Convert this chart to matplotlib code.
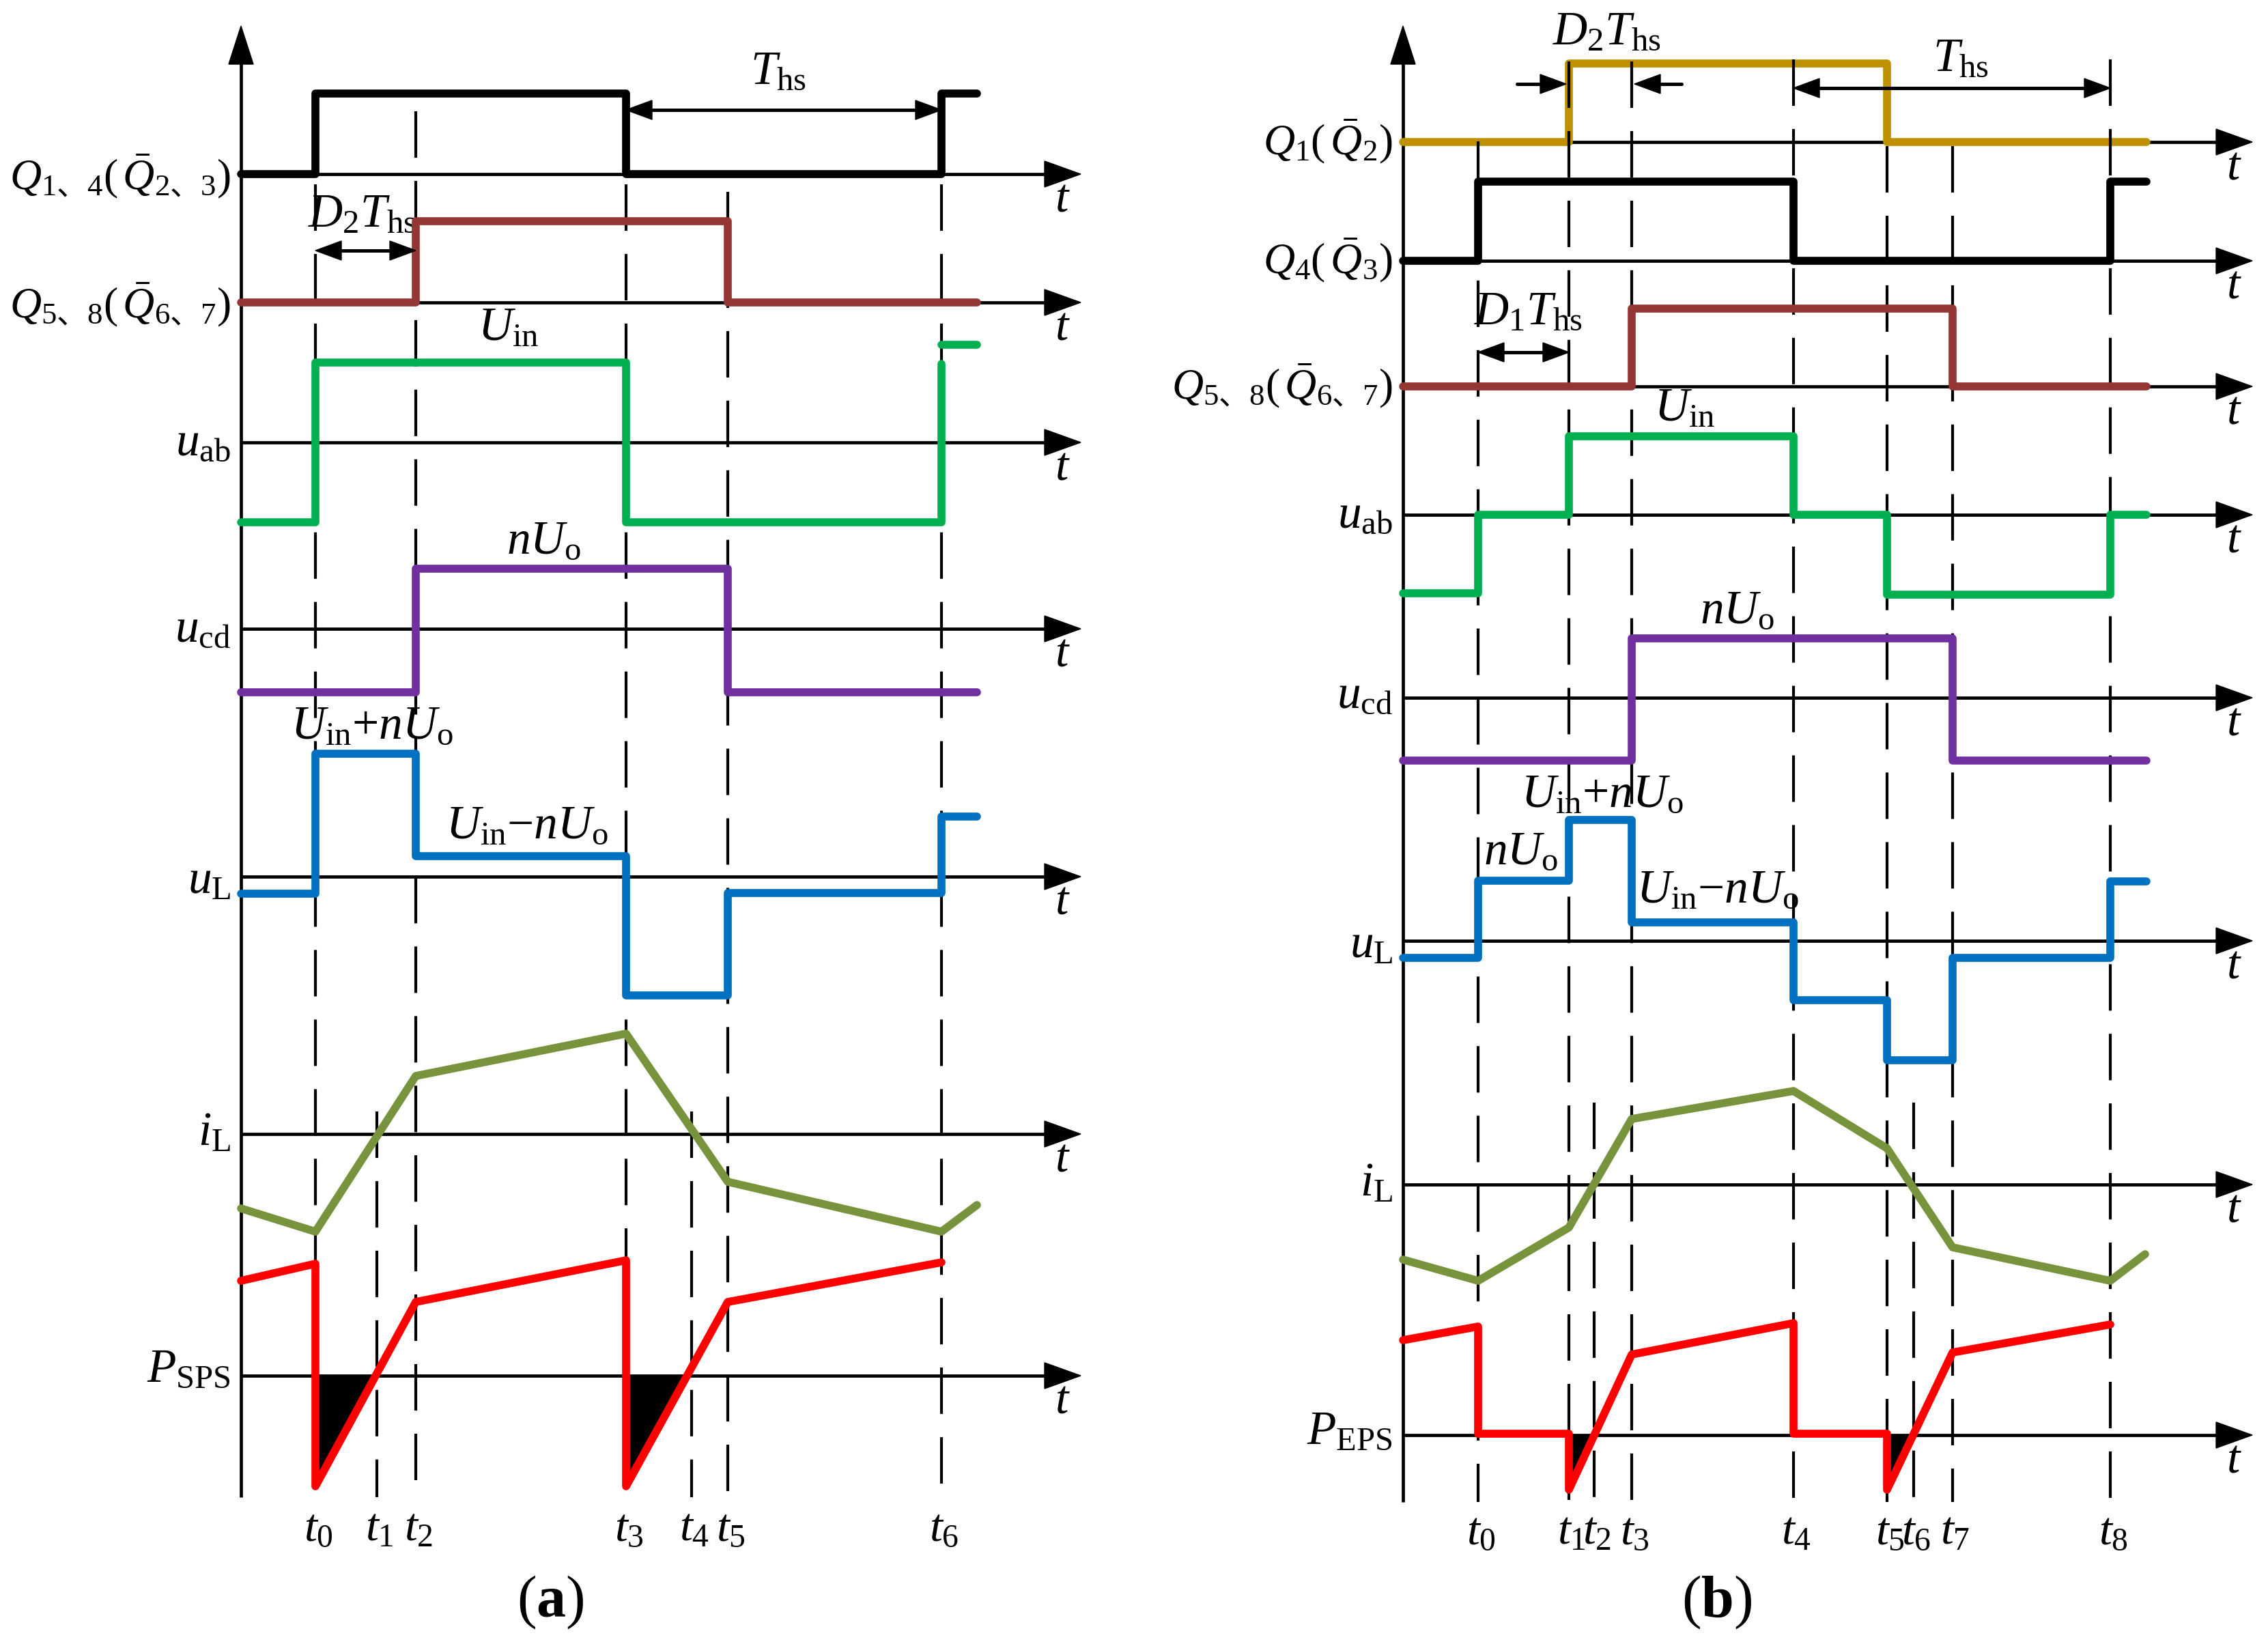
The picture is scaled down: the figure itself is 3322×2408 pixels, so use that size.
import numpy as np
import matplotlib
matplotlib.use('Agg')
import matplotlib.pyplot as plt
from matplotlib.patches import Polygon

plt.rcParams.update({
    'font.family': ['Liberation Serif', 'Noto Sans CJK SC', 'DejaVu Sans'],
    'mathtext.fontset': 'custom',
    'mathtext.rm': 'Liberation Serif',
    'mathtext.it': 'Liberation Serif:italic',
    'mathtext.bf': 'Liberation Serif:bold',
    'mathtext.sf': 'Noto Sans CJK SC',
    'lines.scale_dashes': False,
})

# ======================= DATA =======================
# ---- panel (a): SPS ----
A_TIMES = [462, 552, 609, 917, 1013, 1066, 1379]            # t0 .. t6
A_TLABELS = ['$t_0$', '$t_1$', '$t_2$', '$t_3$', '$t_4$', '$t_5$', '$t_6$']
A_START, A_END = 353, 1431
A_Q14_EDGES, A_Q14_LEVELS = [462, 917, 1379], [0, 118, 0, 118]
A_Q58_EDGES, A_Q58_LEVELS = [609, 1066], [0, 119, 0]
A_UAB_EDGES, A_UAB_LEVELS = [462, 917, 1379], [-117, 117, -117, 115]
A_UAB_TAIL = 143
A_UCD_EDGES, A_UCD_LEVELS = [609, 1066], [-93, 88, -93]
A_UL_EDGES, A_UL_LEVELS = [462, 609, 917, 1066, 1379], [-25, 180, 30, -174, -24, 88]
A_IL_T = [353, 462, 609, 917, 1066, 1379, 1431]
A_IL_V = [-109, -143, 85, 147, -70, -143, -104]
A_P_T = [353, 462, 462, 609, 917, 917, 1066, 1379]
A_P_V = [139, 164, -162, 108, 169, -162, 108, 166]

# ---- panel (b): EPS ----
B_TIMES = [2165, 2298, 2335, 2390, 2627, 2764, 2803, 2860, 3091]   # t0 .. t8
B_TLABELS = ['$t_0$', '$t_1$', '$t_2$', '$t_3$', '$t_4$', '$t_5$', '$t_6$', '$t_7$', '$t_8$']
B_START, B_END = 2055, 3144
B_Q1_EDGES, B_Q1_LEVELS = [2298, 2764], [0, 115, 0]
B_Q4_EDGES, B_Q4_LEVELS = [2165, 2627, 3091], [0, 116, 0, 116]
B_Q58_EDGES, B_Q58_LEVELS = [2390, 2860], [0, 114, 0]
B_UAB_EDGES, B_UAB_LEVELS = [2165, 2298, 2627, 2764, 3091], [-115, 0, 115, 0, -117, 0]
B_UCD_EDGES, B_UCD_LEVELS = [2390, 2860], [-92, 87, -92]
B_UL_EDGES = [2165, 2298, 2390, 2627, 2764, 2860, 3091]
B_UL_LEVELS = [-25, 88, 177, 27, -87, -175, -25, 87]
B_IL_T = [2055, 2165, 2298, 2390, 2627, 2764, 2860, 3091, 3142]
B_IL_V = [-110, -141, -63, 96, 137, 53, -92, -141, -102]
B_P_T = [2055, 2165, 2165, 2298, 2298, 2390, 2627, 2627, 2764, 2764, 2860, 3091]
B_P_V = [139, 159, 2, 2, -80, 118, 164, 2, 2, -80, 121, 162]

# colours
C_BLACK = '#000000'
C_BROWN = '#943634'
C_GREEN = '#00B050'
C_PURPLE = '#7030A0'
C_BLUE = '#0070C0'
C_OLIVE = '#77933C'
C_RED = '#FF0000'
C_GOLD = '#BF9000'

# ======================= FIGURE =======================
W, H = 3322, 2408
fig = plt.figure(figsize=(W / 200, H / 200), dpi=200)
ax = fig.add_axes([0, 0, 1, 1])
ax.set_xlim(0, W)
ax.set_ylim(H, 0)
ax.axis('off')

SIG_LW = 4.2
AX_LW = 1.7
DASH_LW = 1.5
FS = 25
FS_Q = 23


def step_points(start, edges, levels, end):
    xs, vs = [start], [levels[0]]
    for e, lp, ln in zip(edges, levels[:-1], levels[1:]):
        xs += [e, e]
        vs += [lp, ln]
    xs.append(end)
    vs.append(levels[-1])
    return np.array(xs, float), np.array(vs, float)


def draw_wave(xs, vs, base, color, z=4):
    ax.plot(xs, base - np.asarray(vs, float), color=color, lw=SIG_LW,
            solid_capstyle='round', solid_joinstyle='round', zorder=z)


def tri(pts, z=5):
    ax.add_patch(Polygon(pts, closed=True, facecolor='k', edgecolor='k', lw=0.5, zorder=z))


def time_axis(x0, tip, y):
    ax.plot([x0, tip - 45], [y, y], color='k', lw=AX_LW, zorder=3, solid_capstyle='butt')
    tri([(tip, y), (tip - 53, y - 19), (tip - 53, y + 19)])
    ax.text(tip - 27, y + 38, '$t$', fontsize=FS, ha='center', va='center')


def y_axis(x, bottom):
    ax.plot([x, x], [80, bottom], color='k', lw=AX_LW, zorder=3, solid_capstyle='butt')
    tri([(x, 38), (x - 18, 94), (x + 18, 94)])


def dim_arrow(x0, x1, y, left=True, right=True, hl=38, hw=14):
    a = x0 + (hl * 0.8 if left else 0)
    b = x1 - (hl * 0.8 if right else 0)
    ax.plot([a, b], [y, y], color='k', lw=1.8, zorder=5, solid_capstyle='round')
    if left:
        tri([(x0, y), (x0 + hl, y - hw), (x0 + hl, y + hw)])
    if right:
        tri([(x1, y), (x1 - hl, y - hw), (x1 - hl, y + hw)])


def vdash(x, top, bottom):
    ax.plot([x, x], [top, bottom], color='k', lw=DASH_LW, linestyle=(0, (24.5, 12.2)),
            zorder=3.5, dash_capstyle='butt')


def row_label(x_axis, y, s, fs=FS):
    ax.text(x_axis - 15, y, s, fontsize=fs, ha='right', va='center')


def neg_fill(ts, vs, base):
    ts = np.asarray(ts, float)
    vs = np.asarray(vs, float)
    ax.fill_between(ts, base - vs, base, where=vs < 0, interpolate=True,
                    color='k', lw=0, zorder=4.5)


# ======================= PANEL (a) =======================
AX_A, BOT_A, TIP_A = 353, 2193, 1583
A_ROWS = dict(Q=255, Q58=443, uab=648, ucd=921, uL=1284, iL=1661, P=2015)
y_axis(AX_A, BOT_A)
for key in A_ROWS:
    time_axis(AX_A, TIP_A, A_ROWS[key])

a_tops = [270, 1628, 163, 270, 1628, 281, 270]
for t, top in zip(A_TIMES, a_tops):
    vdash(t, top, BOT_A)

draw_wave(*step_points(A_START, A_Q14_EDGES, A_Q14_LEVELS, A_END), A_ROWS['Q'], C_BLACK)
draw_wave(*step_points(A_START, A_Q58_EDGES, A_Q58_LEVELS, A_END), A_ROWS['Q58'], C_BROWN)
draw_wave(*step_points(A_START, A_UAB_EDGES, A_UAB_LEVELS, A_UAB_EDGES[-1]), A_ROWS['uab'], C_GREEN)
draw_wave([A_UAB_EDGES[-1], A_END], [A_UAB_TAIL, A_UAB_TAIL], A_ROWS['uab'], C_GREEN)
draw_wave(*step_points(A_START, A_UCD_EDGES, A_UCD_LEVELS, A_END), A_ROWS['ucd'], C_PURPLE)
draw_wave(*step_points(A_START, A_UL_EDGES, A_UL_LEVELS, A_END), A_ROWS['uL'], C_BLUE)
draw_wave(A_IL_T, A_IL_V, A_ROWS['iL'], C_OLIVE)
neg_fill(A_P_T, A_P_V, A_ROWS['P'])
draw_wave(A_P_T, A_P_V, A_ROWS['P'], C_RED, z=6)

row_label(AX_A, A_ROWS['Q'] + 4, r'$Q_{1\mathsf{、}4}(\,\bar{Q}_{2\mathsf{、}3})$', FS_Q)
row_label(AX_A, A_ROWS['Q58'] + 4, r'$Q_{5\mathsf{、}8}(\,\bar{Q}_{6\mathsf{、}7})$', FS_Q)
row_label(AX_A, A_ROWS['uab'] + 2, r'$u_{\mathrm{ab}}$')
row_label(AX_A, A_ROWS['ucd'] + 2, r'$u_{\mathrm{cd}}$')
row_label(AX_A, A_ROWS['uL'] + 8, r'$u_{\mathrm{L}}$')
row_label(AX_A, A_ROWS['iL'], r'$i_{\mathrm{L}}$')
row_label(AX_A, A_ROWS['P'] - 8, r'$P_{\mathrm{SPS}}$')

dim_arrow(A_TIMES[3], A_TIMES[6], 161)
ax.text(1140, 106, r'$T_{\mathrm{hs}}$', fontsize=FS, ha='center', va='center')
dim_arrow(A_TIMES[0], A_TIMES[2], 367)
ax.text(530, 315, r'$D_2T_{\mathrm{hs}}$', fontsize=FS, ha='center', va='center')
ax.text(745, 482, r'$U_{\mathrm{in}}$', fontsize=FS, ha='center', va='center')
ax.text(797, 794, r'$nU_{\mathrm{o}}$', fontsize=FS, ha='center', va='center')
ax.text(545, 1065, r'$U_{\mathrm{in}}{+}nU_{\mathrm{o}}$', fontsize=FS, ha='center', va='center')
ax.text(772, 1211, r'$U_{\mathrm{in}}{-}nU_{\mathrm{o}}$', fontsize=FS, ha='center', va='center')

for t, lab in zip(A_TIMES, A_TLABELS):
    ax.text(t + 4, 2240, lab, fontsize=24.5, ha='center', va='center')
ax.text(806, 2347, r'$(\mathbf{a})$', fontsize=31, ha='center', va='center')

# ======================= PANEL (b) =======================
AX_B, BOT_B, TIP_B = 2055, 2200, 3299
B_ROWS = dict(Q1=208, Q4=382, Q58=566, uab=754, ucd=1022, uL=1378, iL=1735, P=2102)
y_axis(AX_B, BOT_B)
for key in B_ROWS:
    time_axis(AX_B, TIP_B, B_ROWS[key])

b_tops = [207, 90, 1615, 90, 87, 214, 1615, 214, 87]
for t, top in zip(B_TIMES, b_tops):
    vdash(t, top, BOT_B)

draw_wave(*step_points(B_START, B_Q1_EDGES, B_Q1_LEVELS, B_END), B_ROWS['Q1'], C_GOLD, z=3.2)
draw_wave(*step_points(B_START, B_Q4_EDGES, B_Q4_LEVELS, B_END), B_ROWS['Q4'], C_BLACK)
draw_wave(*step_points(B_START, B_Q58_EDGES, B_Q58_LEVELS, B_END), B_ROWS['Q58'], C_BROWN)
draw_wave(*step_points(B_START, B_UAB_EDGES, B_UAB_LEVELS, B_END), B_ROWS['uab'], C_GREEN)
draw_wave(*step_points(B_START, B_UCD_EDGES, B_UCD_LEVELS, B_END), B_ROWS['ucd'], C_PURPLE)
draw_wave(*step_points(B_START, B_UL_EDGES, B_UL_LEVELS, B_END), B_ROWS['uL'], C_BLUE)
draw_wave(B_IL_T, B_IL_V, B_ROWS['iL'], C_OLIVE)
neg_fill(B_P_T, B_P_V, B_ROWS['P'])
draw_wave(B_P_T, B_P_V, B_ROWS['P'], C_RED, z=6)

row_label(AX_B, B_ROWS['Q1'], r'$Q_{1}(\,\bar{Q}_{2})$', FS_Q)
row_label(AX_B, B_ROWS['Q4'], r'$Q_{4}(\,\bar{Q}_{3})$', FS_Q)
row_label(AX_B, B_ROWS['Q58'], r'$Q_{5\mathsf{、}8}(\,\bar{Q}_{6\mathsf{、}7})$', FS_Q)
row_label(AX_B, B_ROWS['uab'] + 2, r'$u_{\mathrm{ab}}$')
row_label(AX_B, B_ROWS['ucd'] - 2, r'$u_{\mathrm{cd}}$')
row_label(AX_B, B_ROWS['uL'] + 8, r'$u_{\mathrm{L}}$')
row_label(AX_B, B_ROWS['iL'], r'$i_{\mathrm{L}}$')
row_label(AX_B, B_ROWS['P'] - 4, r'$P_{\mathrm{EPS}}$')

ax.text(2353, 48, r'$D_2T_{\mathrm{hs}}$', fontsize=FS, ha='center', va='center')
dim_arrow(2222, B_TIMES[1] - 4, 123, left=False, right=True)
dim_arrow(B_TIMES[3] + 4, 2463, 123, left=True, right=False)
dim_arrow(B_TIMES[4], B_TIMES[8], 129)
ax.text(2872, 87, r'$T_{\mathrm{hs}}$', fontsize=FS, ha='center', va='center')
dim_arrow(B_TIMES[0], B_TIMES[1], 516)
ax.text(2238, 458, r'$D_1T_{\mathrm{hs}}$', fontsize=FS, ha='center', va='center')
ax.text(2468, 600, r'$U_{\mathrm{in}}$', fontsize=FS, ha='center', va='center')
ax.text(2545, 896, r'$nU_{\mathrm{o}}$', fontsize=FS, ha='center', va='center')
ax.text(2347, 1165, r'$U_{\mathrm{in}}{+}nU_{\mathrm{o}}$', fontsize=FS, ha='center', va='center')
ax.text(2228, 1249, r'$nU_{\mathrm{o}}$', fontsize=FS, ha='center', va='center')
ax.text(2516, 1305, r'$U_{\mathrm{in}}{-}nU_{\mathrm{o}}$', fontsize=FS, ha='center', va='center')

for t, lab in zip(B_TIMES, B_TLABELS):
    ax.text(t + 4, 2245, lab, fontsize=24.5, ha='center', va='center')
ax.text(2515, 2347, r'$(\mathbf{b})$', fontsize=31, ha='center', va='center')

fig.savefig('out.png', dpi=200, facecolor='white')
